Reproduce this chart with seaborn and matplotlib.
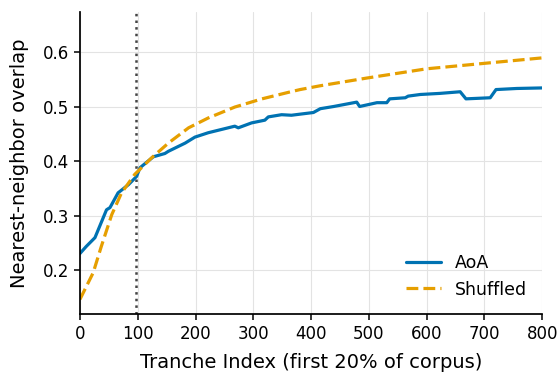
import matplotlib
matplotlib.use("Agg")
import matplotlib.pyplot as plt
import seaborn as sns
import pandas as pd

aoa_x = [0, 11, 26, 46, 52, 66, 84, 98, 104, 127, 147, 153, 182, 199, 222, 245, 268, 274,
         297, 320, 326, 349, 366, 381, 404, 416, 439, 479, 484, 514, 531, 536, 563, 568,
         589, 623, 658, 668, 710, 720, 756, 800]
aoa_y = [0.231, 0.244, 0.260, 0.311, 0.315, 0.342, 0.357, 0.372, 0.388, 0.408, 0.414, 0.418,
         0.433, 0.444, 0.452, 0.458, 0.464, 0.461, 0.470, 0.475, 0.481, 0.485, 0.484, 0.486,
         0.489, 0.496, 0.500, 0.508, 0.500, 0.507, 0.507, 0.514, 0.516, 0.519, 0.522, 0.524,
         0.527, 0.514, 0.516, 0.531, 0.533, 0.534]

shuf_x = [0, 23, 37, 55, 72, 95, 124, 153, 188, 222, 268, 315, 361, 381, 416, 496, 600, 800]
shuf_y = [0.147, 0.196, 0.244, 0.302, 0.342, 0.376, 0.406, 0.433, 0.461, 0.479, 0.499,
          0.514, 0.526, 0.531, 0.538, 0.552, 0.569, 0.589]

marker_x = 97
x_ticks = [0, 100, 200, 300, 400, 500, 600, 700, 800]
y_ticks = [0.2, 0.3, 0.4, 0.5, 0.6]

sns.set_theme(style="ticks")
plt.rcParams['font.family'] = ['DejaVu Sans']
plt.rcParams['text.color'] = 'black'
plt.rcParams['axes.labelcolor'] = 'black'
plt.rcParams['xtick.color'] = 'black'
plt.rcParams['ytick.color'] = 'black'
plt.rcParams['axes.edgecolor'] = 'black'

df = pd.concat([
    pd.DataFrame({"x": aoa_x, "y": aoa_y, "series": "AoA"}),
    pd.DataFrame({"x": shuf_x, "y": shuf_y, "series": "Shuffled"}),
])

fig, ax = plt.subplots(figsize=(5.59, 3.74), dpi=100)
pal = {"AoA": "#0072B2", "Shuffled": "#E69F00"}
sns.lineplot(data=df, x="x", y="y", hue="series", style="series",
             dashes={"AoA": "", "Shuffled": (3.7, 1.6)}, palette=pal, linewidth=2.3,
             ax=ax, estimator=None, sort=False)
ax.axvline(marker_x, color="#444444", linestyle=":", linewidth=1.8, zorder=1)

ax.set_xlim(0, 800)
ax.set_ylim(0.12, 0.673)
ax.set_xticks(x_ticks)
ax.set_yticks(y_ticks)
ax.grid(True, color="#e3e3e3", linewidth=0.8)
ax.set_axisbelow(True)
sns.despine(ax=ax)
for s in ("left", "bottom"):
    ax.spines[s].set_linewidth(1.25)
ax.tick_params(labelsize=12, length=4.5, width=1.1)
ax.set_xlabel("Tranche Index (first 20% of corpus)", fontsize=14, labelpad=7)
ax.set_ylabel("Nearest-neighbor overlap", fontsize=14, labelpad=10)
leg = ax.legend(loc="lower right", frameon=False, fontsize=12.5, title=None)
fig.subplots_adjust(left=0.143, right=0.97, bottom=0.16, top=0.968)
fig.savefig("out.png", dpi=100)
